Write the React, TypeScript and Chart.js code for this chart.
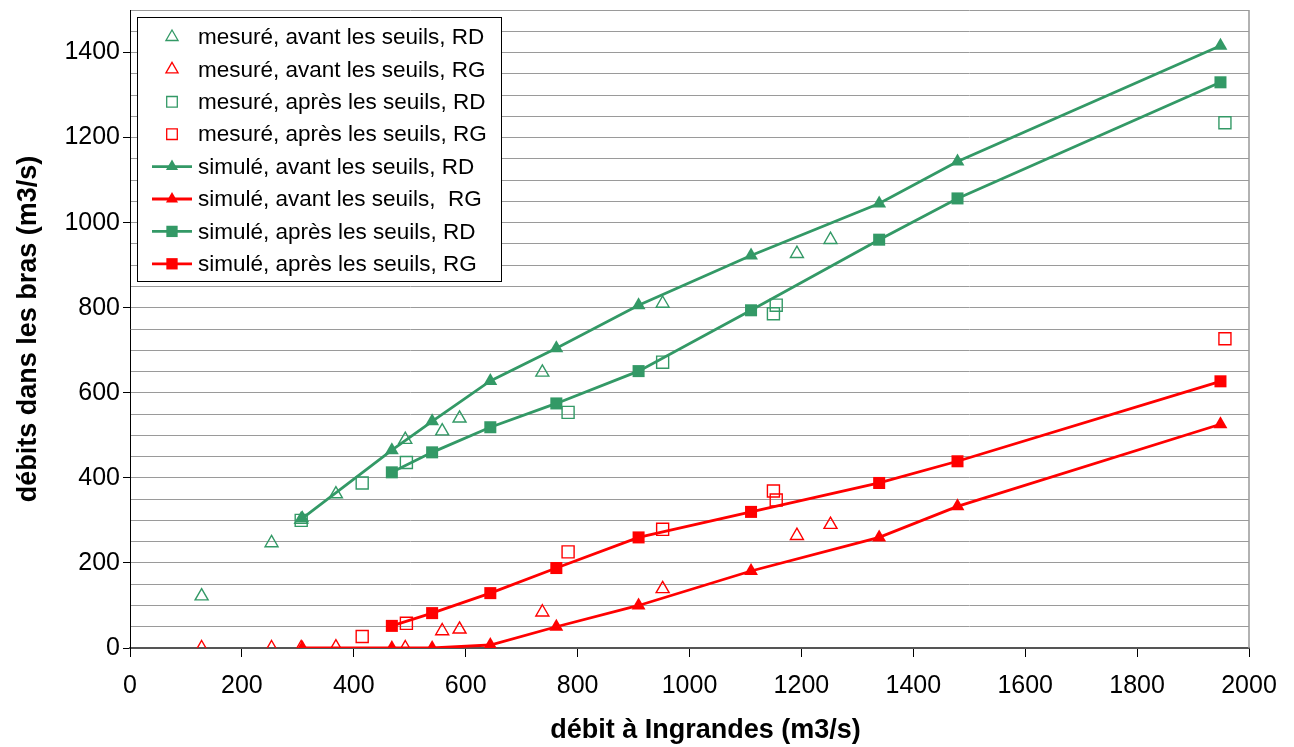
import React, { useEffect, useRef } from 'react';
import { Chart, registerables } from 'chart.js';

Chart.register(...registerables);

const GREEN = '#339966';
const RED = '#FF0000';
const FONT = '"Liberation Sans", Arial, sans-serif';

// Simulated flows (x = débit à Ingrandes)
const debitSimule = [308, 468, 540, 644, 762, 909, 1110, 1339, 1479, 1949];
const simAvantRD = [305, 465, 533, 628, 705, 806, 923, 1045, 1144, 1416];
const simAvantRG = [0, 0, 0, 7, 50, 100, 181, 260, 333, 526];
const simApresRD = [null, 413, 460, 519, 575, 651, 794, 960, 1057, 1330];
const simApresRG = [null, 52, 82, 129, 188, 260, 320, 388, 439, 627];

// Measured, before the sills
const debitMesureAvant = [128, 253, 306, 368, 492, 558, 589, 737, 952, 1192, 1252];
const mesAvantRD = [122, 247, 302, 362, 490, 510, 540, 648, 810, 927, 960];
const mesAvantRG = [0, 0, 0, 2, 0, 40, 44, 84, 139, 264, 290];

// Measured, after the sills
const debitMesureApres = [306, 415, 494, 783, 952, 1150, 1155, 1957];
const mesApresRD = [300, 388, 436, 554, 672, 786, 806, 1235];
const mesApresRG = [null, 27, 58, 226, 279, 369, 348, 727];

const labels = [
  'mesuré, avant les seuils, RD',
  'mesuré, avant les seuils, RG',
  'mesuré, après les seuils, RD',
  'mesuré, après les seuils, RG',
  'simulé, avant les seuils, RD',
  'simulé, avant les seuils,  RG',
  'simulé, après les seuils, RD',
  'simulé, après les seuils, RG',
];

const xTitle = 'débit à Ingrandes (m3/s)';
const yTitle = 'débits dans les bras (m3/s)';

const xTicks = { min: 0, max: 2000, step: 200 };
const yTicks = { min: 0, max: 1500, step: 50, labelStep: 200 };

function pts(xs: number[], ys: (number | null)[]) {
  return xs.map((x, i) => ({ x, y: ys[i] })).filter((p) => p.y !== null);
}

function drawMarker(ctx: CanvasRenderingContext2D, style: string, x: number, y: number, r: number, color: string, filled: boolean) {
  ctx.beginPath();
  if (style === 'triangle') {
    for (let k = 0; k < 3; k++) {
      const a = (k * 2 * Math.PI) / 3;
      const px = x + Math.sin(a) * r;
      const py = y - Math.cos(a) * r;
      if (k === 0) ctx.moveTo(px, py);
      else ctx.lineTo(px, py);
    }
    ctx.closePath();
  } else {
    const s = r * Math.SQRT1_2;
    ctx.rect(x - s, y - s, 2 * s, 2 * s);
  }
  if (filled) {
    ctx.fillStyle = color;
    ctx.fill();
  } else {
    ctx.strokeStyle = color;
    ctx.lineWidth = 1.3;
    ctx.stroke();
  }
}

const legendPlugin = {
  id: 'customLegend',
  afterDraw(chart: any) {
    const ctx: CanvasRenderingContext2D = chart.ctx;
    const x0 = 137, y0 = 17, w = 364, h = 264;
    ctx.save();
    ctx.fillStyle = '#ffffff';
    ctx.fillRect(x0, y0, w, h);
    ctx.strokeStyle = '#000000';
    ctx.lineWidth = 1;
    ctx.strokeRect(x0 + 0.5, y0 + 0.5, w, h);
    chart.data.datasets.forEach((ds: any, i: number) => {
      const cy = 37 + i * 32.4;
      const mx = 172;
      if (ds.showLine) {
        ctx.beginPath();
        ctx.moveTo(152, cy);
        ctx.lineTo(192, cy);
        ctx.strokeStyle = ds.borderColor;
        ctx.lineWidth = 2.8;
        ctx.stroke();
        drawMarker(ctx, ds.pointStyle, mx, cy, ds.pointStyle === 'triangle' ? 7 : 8, ds.borderColor, true);
      } else {
        drawMarker(ctx, ds.pointStyle, mx, cy, ds.pointStyle === 'triangle' ? 7 : 7.5, ds.borderColor, false);
      }
      ctx.fillStyle = '#000000';
      ctx.font = `22.5px ${FONT}`;
      ctx.textBaseline = 'middle';
      ctx.textAlign = 'left';
      ctx.fillText(ds.label, 198, cy + 1);
    });
    ctx.restore();
  },
};

const xTitlePlugin = {
  id: 'xTitle',
  afterDraw(chart: any) {
    const ctx: CanvasRenderingContext2D = chart.ctx;
    const { chartArea } = chart;
    ctx.save();
    ctx.fillStyle = '#000000';
    ctx.font = `bold 27px ${FONT}`;
    ctx.textAlign = 'center';
    ctx.textBaseline = 'alphabetic';
    ctx.fillText(xTitle, (chartArea.left + chartArea.right) / 2 + 16, 738);
    ctx.restore();
  },
};

const borderPlugin = {
  id: 'rightBorder',
  beforeDatasetsDraw(chart: any) {
    const { ctx, chartArea } = chart;
    ctx.save();
    ctx.strokeStyle = '#999999';
    ctx.lineWidth = 1.5;
    ctx.beginPath();
    ctx.moveTo(chartArea.right, chartArea.top);
    ctx.lineTo(chartArea.right, chartArea.bottom);
    ctx.stroke();
    ctx.restore();
  },
};

function measured(label: string, xs: number[], ys: (number | null)[], color: string, style: string) {
  return {
    label,
    data: pts(xs, ys),
    showLine: false,
    borderColor: color,
    backgroundColor: 'transparent',
    pointStyle: style,
    pointRadius: style === 'triangle' ? 7.5 : 8.5,
    pointBorderWidth: 1.4,
    pointBackgroundColor: 'transparent',
    pointBorderColor: color,
    order: 1,
  };
}

function simulated(label: string, xs: number[], ys: (number | null)[], color: string, style: string) {
  return {
    label,
    data: pts(xs, ys),
    showLine: true,
    borderColor: color,
    backgroundColor: color,
    borderWidth: 2.8,
    pointStyle: style,
    pointRadius: style === 'triangle' ? 8 : 8.5,
    pointBorderWidth: 0,
    pointBackgroundColor: color,
    pointBorderColor: color,
    tension: 0,
    order: 0,
  };
}

export default function App() {
  const ref = useRef<HTMLCanvasElement | null>(null);

  useEffect(() => {
    if (!ref.current) return;
    const chart = new Chart(ref.current, {
      type: 'scatter',
      data: {
        datasets: [
          measured(labels[0], debitMesureAvant, mesAvantRD, GREEN, 'triangle'),
          measured(labels[1], debitMesureAvant, mesAvantRG, RED, 'triangle'),
          measured(labels[2], debitMesureApres, mesApresRD, GREEN, 'rect'),
          measured(labels[3], debitMesureApres, mesApresRG, RED, 'rect'),
          simulated(labels[4], debitSimule, simAvantRD, GREEN, 'triangle'),
          simulated(labels[5], debitSimule, simAvantRG, RED, 'triangle'),
          simulated(labels[6], debitSimule, simApresRD, GREEN, 'rect'),
          simulated(labels[7], debitSimule, simApresRG, RED, 'rect'),
        ] as any,
      },
      options: {
        animation: false,
        responsive: true,
        maintainAspectRatio: false,
        layout: { padding: { left: 0, right: 45, top: 10, bottom: 0 } },
        plugins: {
          legend: { display: false },
          tooltip: { enabled: false },
        },
        scales: {
          x: {
            type: 'linear',
            min: xTicks.min,
            max: xTicks.max,
            afterFit: (scale: any) => {
              scale.height = 99;
              scale.paddingLeft = 0;
              scale.paddingRight = 0;
            },
            ticks: {
              stepSize: xTicks.step,
              color: '#000',
              font: { family: FONT, size: 25 },
              padding: 14,
              autoSkip: false,
              maxRotation: 0,
              callback: (v: any) => String(v),
            },
            grid: {
              drawOnChartArea: false,
              drawTicks: true,
              tickLength: 9,
              tickColor: '#000',
              tickWidth: 1,
            },
            border: { display: true, color: '#555', width: 2 },
            title: { display: false },
          },
          y: {
            type: 'linear',
            min: yTicks.min,
            max: yTicks.max,
            afterFit: (scale: any) => {
              scale.width = 130;
              scale.paddingTop = 0;
              scale.paddingBottom = 0;
            },
            ticks: {
              stepSize: yTicks.step,
              color: '#000',
              font: { family: FONT, size: 25 },
              padding: 3,
              autoSkip: false,
              callback: (v: any) => (Number(v) % yTicks.labelStep === 0 ? String(v) : ''),
            },
            grid: {
              color: '#9a9a9a',
              lineWidth: 1,
              drawTicks: true,
              tickLength: 7,
              tickWidth: 1,
              tickColor: (c: any) => (c.tick && c.tick.value % yTicks.labelStep === 0 ? '#000' : 'rgba(0,0,0,0)'),
            },
            border: { display: true, color: '#000', width: 1 },
            title: {
              display: true,
              text: yTitle,
              color: '#000',
              font: { family: FONT, size: 27, weight: 'bold', lineHeight: 1.2 },
              padding: { top: 12, bottom: 0 },
            },
          },
        },
      } as any,
      plugins: [borderPlugin, legendPlugin, xTitlePlugin],
    });
    return () => chart.destroy();
  }, []);

  return (
    <div style={{ position: 'fixed', left: 0, top: 0, width: 1294, height: 747, background: '#fff' }}>
      <canvas ref={ref} />
    </div>
  );
}
